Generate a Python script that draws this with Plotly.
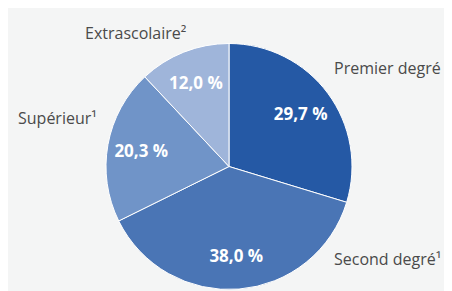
import plotly.graph_objects as go

categories = ["Premier degré", "Second degré¹", "Supérieur¹", "Extrascolaire²"]
values = [29.7, 38.0, 20.3, 12.0]
colors = ["#2559a5", "#4a75b5", "#7094c8", "#9fb5da"]

pct_text = [f"{v:.1f}".replace(".", ",") + " %" for v in values]

# page body has an 8px margin: the figure itself is the gray panel
W, H = 444, 283
dom = dict(x=[98 / W, 344 / W], y=[1 - 281.5 / H, 1 - 35.5 / H])

fig = go.Figure()
# full pie (no text)
fig.add_trace(go.Pie(
    labels=categories, values=values,
    textinfo="none",
    marker=dict(colors=colors, line=dict(color="white", width=1)),
    sort=False, direction="clockwise", rotation=0,
    showlegend=False, hoverinfo="label+percent", domain=dom,
))
# transparent ring overlay carrying the percentage labels further out
fig.add_trace(go.Pie(
    labels=categories, values=values,
    hole=0.45,
    text=pct_text, texttemplate="%{text}",
    textposition="inside", insidetextorientation="horizontal",
    textfont=dict(family="Open Sans", size=17, color="white", weight="bold"),
    marker=dict(colors=["rgba(0,0,0,0)"] * len(values), line=dict(width=0)),
    sort=False, direction="clockwise", rotation=0,
    showlegend=False, hoverinfo="skip", domain=dom,
))

label_pos = {
    "Premier degré": (324, 60),
    "Second degré¹": (324, 251),
    "Supérieur¹": (8, 110),
    "Extrascolaire²": (75, 25),
}
for name in categories:
    x, y = label_pos[name]
    fig.add_annotation(text=name, x=x / W, y=1 - y / H, xref="paper", yref="paper",
                       xanchor="left", yanchor="middle", showarrow=False,
                       font=dict(family="Open Sans", size=16, color="#4a4a4a"))

fig.update_layout(width=W, height=H, margin=dict(l=0, r=0, t=0, b=0),
                  paper_bgcolor="#f4f5f5", plot_bgcolor="#f4f5f5")
fig.write_html("out.html")
